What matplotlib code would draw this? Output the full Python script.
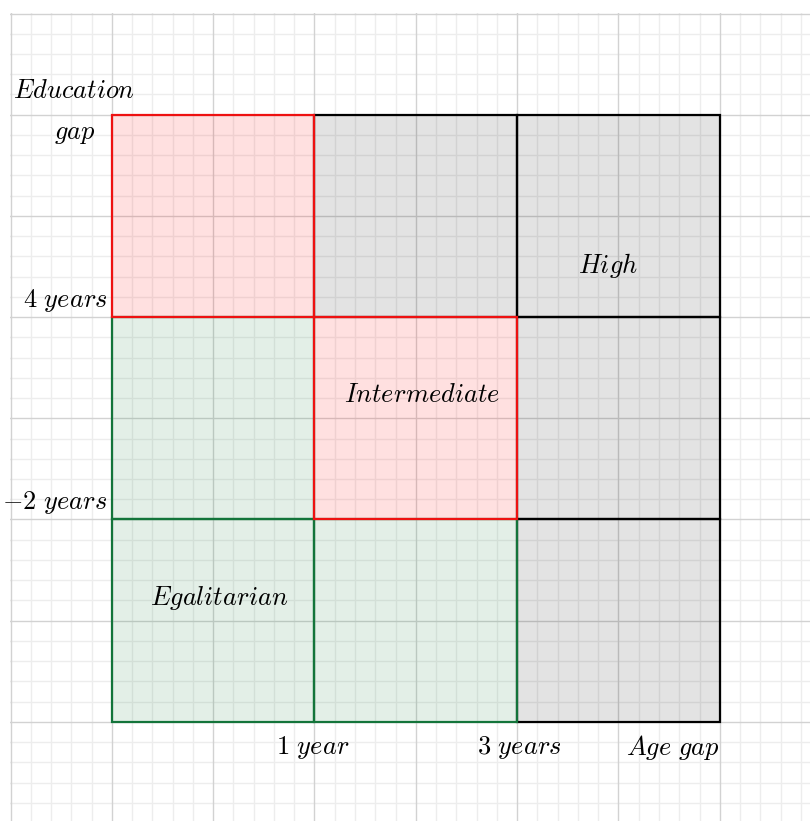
import matplotlib.pyplot as plt
from matplotlib.patches import Rectangle

plt.rcParams['mathtext.fontset'] = 'cm'

# cell boundaries (grid units) and which group each cell belongs to
age_edges = [0, 2, 4, 6]
edu_edges = [0, 2, 4, 6]
# rows from bottom to top, columns from left to right
cell_group = [
    ['egal', 'egal', 'high'],
    ['egal', 'inter', 'high'],
    ['inter', 'high', 'high'],
]

group_names = ['Egalitarian', 'Intermediate', 'High']
group_keys = ['egal', 'inter', 'high']
group_label_pos = [(1.06, 1.22), (3.06, 3.23), (4.9, 4.51)]

x_tick_labels = ['1\\ year', '3\\ years', 'Age\\ gap']
x_tick_pos = [1.98, 4.02, 5.54]
y_tick_labels = ['-2\\ years', '4\\ years']
y_tick_pos = [2.17, 4.16]

face = {'high': (0, 0, 0, 0.11), 'egal': (0.1, 0.5, 0.25, 0.12), 'inter': (1, 0, 0, 0.12)}
edge = {'high': 'black', 'egal': '#13743a', 'inter': '#ee1111'}

fig = plt.figure(figsize=(8.1, 8.21), dpi=100)
ax = fig.add_axes([10 / 810, 0, 800 / 810, 808 / 821])
ax.set_xlim(-1.005, 6.89)
ax.set_ylim(-0.98, 7.005)

# graph paper
k = -5
while k <= 35:
    v = k / 5
    major = (k % 5 == 0)
    c = '#d2d2d2' if major else '#ededed'
    ax.axvline(v, color=c, lw=1.0, zorder=1 if major else 0)
    ax.axhline(v, color=c, lw=1.0, zorder=1 if major else 0)
    k += 1

# cells: grey first, then green, then red on top
for key in ['high', 'egal', 'inter']:
    for r in range(3):
        for c in range(3):
            if cell_group[r][c] != key:
                continue
            x0, x1 = age_edges[c], age_edges[c + 1]
            y0, y1 = edu_edges[r], edu_edges[r + 1]
            ax.add_patch(Rectangle((x0, y0), x1 - x0, y1 - y0, facecolor=face[key],
                                   edgecolor='none', zorder=2))
            ax.add_patch(Rectangle((x0, y0), x1 - x0, y1 - y0, facecolor='none',
                                   edgecolor=edge[key], lw=1.6, zorder=3))

fs = 19
for name, (gx, gy) in zip(group_names, group_label_pos):
    ax.text(gx, gy, '$' + name + '$', fontsize=fs, ha='center', va='center', zorder=5)

for lab, xp in zip(x_tick_labels, x_tick_pos):
    ax.text(xp, -0.25, '$' + lab + '$', fontsize=fs, ha='center', va='center', zorder=5)

for lab, yp in zip(y_tick_labels, y_tick_pos):
    ax.text(-0.04, yp, '$' + lab + '$', fontsize=fs, ha='right', va='center', zorder=5)

ax.text(-0.37, 6.23, '$Education$', fontsize=fs, ha='center', va='center', zorder=5)
ax.text(-0.37, 5.82, '$gap$', fontsize=fs, ha='center', va='center', zorder=5)

ax.set_xticks([])
ax.set_yticks([])
for s in ax.spines.values():
    s.set_visible(False)

fig.savefig('out.png', dpi=100)
